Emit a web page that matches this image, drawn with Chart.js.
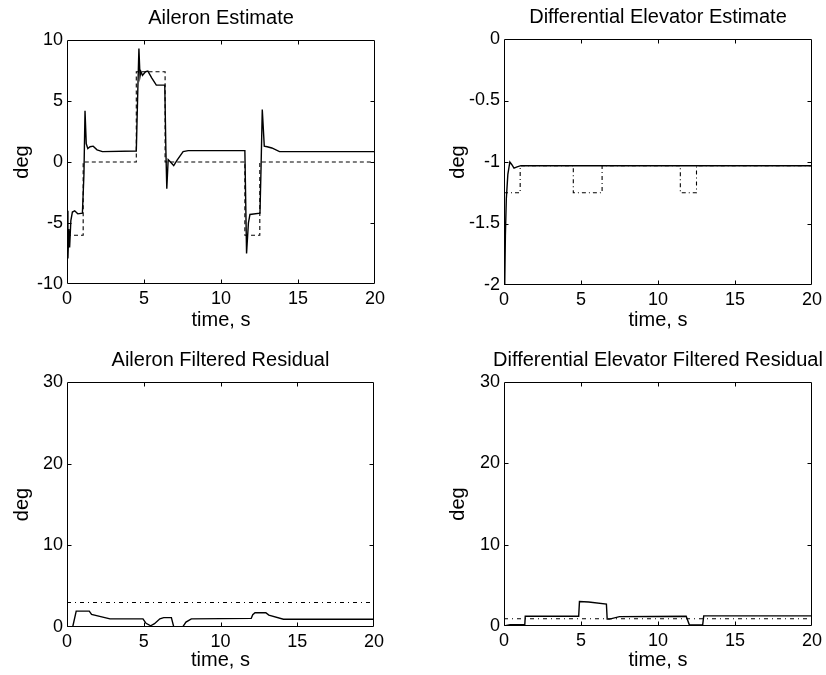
<!DOCTYPE html>
<html>
<head>
<meta charset="utf-8">
<script src="https://cdn.jsdelivr.net/npm/chart.js@4/dist/chart.umd.min.js"></script>
<style>
  html, body { margin: 0; padding: 0; background: #fff; }
  #wrap { position: relative; width: 826px; height: 675px; overflow: hidden; }
  #wrap canvas { position: absolute; }
</style>
</head>
<body>
<div id="wrap">
  <canvas id="c1" width="413" height="337" style="left:0;top:0"></canvas>
  <canvas id="c2" width="413" height="337" style="left:413px;top:0"></canvas>
  <canvas id="c3" width="413" height="338" style="left:0;top:337px"></canvas>
  <canvas id="c4" width="413" height="338" style="left:413px;top:337px"></canvas>
</div>
<script>
// ---- Aileron estimate (deg) ----
const aileronEstT = [0, 0.06, 0.12, 0.17, 0.25, 0.35, 0.5, 0.7, 1.0, 1.1, 1.17, 1.25, 1.35, 1.5, 1.7, 1.95, 2.3,
  4.5, 4.6, 4.67, 4.74, 4.8, 4.9, 5.1, 5.25, 5.5, 5.8, 6.35, 6.42, 6.48, 6.57, 6.72, 6.93, 7.15, 7.54, 7.87,
  11.55, 11.66, 11.78, 11.88, 12.53, 12.6, 12.68, 12.81, 13.0, 13.3, 13.8, 20];
const aileronEstV = [-4.0, -7.9, -5.5, -7.0, -4.8, -4.1, -4.0, -4.25, -4.2, -1.0, 4.2, 1.5, 1.1, 1.25, 1.3, 1.0, 0.85,
  0.9, 6.0, 9.3, 7.0, 7.4, 7.1, 7.4, 7.45, 6.9, 6.3, 6.3, 1.0, -2.2, 0.2, 0.0, -0.3, 0.15, 0.85, 0.93,
  0.93, -7.5, -5.0, -4.3, -4.2, -0.5, 4.3, 1.3, 1.25, 1.15, 0.85, 0.85];
// commanded aileron (step changes)
const aileronCmdT = [0, 1.05, 4.5, 6.37, 11.55, 12.52, 20];
const aileronCmdV = [-6, 0, 7.4, 0, -6, 0, 0];

// ---- Differential elevator estimate (deg) ----
const elevEstT = [0, 0.05, 0.09, 0.15, 0.25, 0.38, 0.5, 0.65, 0.85, 1.1, 20];
const elevEstV = [-2.0, -1.98, -1.6, -1.3, -1.1, -1.0, -1.02, -1.05, -1.04, -1.03, -1.03];
const elevCmdT = [0, 1.05, 4.5, 6.37, 11.45, 12.5, 20];
const elevCmdV = [-1.25, -1.03, -1.25, -1.03, -1.25, -1.03, -1.03];

// ---- Aileron filtered residual (deg) ----
const ailResT = [0, 0.37, 0.6, 1.45, 1.6, 2.8, 4.95, 5.15, 5.45, 5.7, 6.05, 6.3, 6.8, 6.95, 7.55, 7.75, 8.1,
  12.0, 12.1, 12.25, 12.95, 13.15, 14.1, 20];
const ailResV = [0, 0, 1.95, 1.95, 1.55, 1.0, 1.0, 0.45, 0.15, 0.4, 1.0, 1.15, 1.15, 0.05, 0.05, 0.6, 1.0,
  1.05, 1.5, 1.75, 1.75, 1.45, 0.95, 0.95];
const ailThreshT = [0, 20];
const ailThreshV = [3.0, 3.0];

// ---- Differential elevator filtered residual (deg) ----
const elevResT = [0, 0.4, 1.35, 1.38, 4.85, 4.9, 5.5, 6.65, 6.7, 6.85, 7.5, 11.83, 12.04, 12.9, 12.97, 20];
const elevResV = [0, 0.15, 0.15, 1.2, 1.2, 3.0, 2.95, 2.7, 0.85, 0.85, 1.15, 1.2, 0.12, 0.12, 1.25, 1.25];
const elevThreshT = [0, 20];
const elevThreshV = [0.9, 0.9];

// axis ticks
const timeTicks = [0, 5, 10, 15, 20];

const FONT = '"Liberation Sans", Arial, Helvetica, sans-serif';
Chart.defaults.color = '#000';
Chart.defaults.font.family = FONT;

const pts = (t, v) => t.map((x, i) => ({ x, y: v[i] }));

// box around the plot area with inward tick marks on all four sides
const frameTicks = {
  id: 'frameTicks',
  afterDraw(chart) {
    const { ctx, chartArea: a, scales: { x, y } } = chart;
    const L = Math.round(a.left) + 0.5, R = Math.round(a.right) - 0.5;
    const T = Math.round(a.top) + 0.5, B = Math.round(a.bottom) - 0.5;
    const len = 4;
    ctx.save();
    ctx.strokeStyle = '#000';
    ctx.lineWidth = 1;
    ctx.beginPath();
    ctx.rect(L, T, R - L, B - T);
    x.ticks.forEach(tk => {
      const px = Math.round(x.getPixelForValue(tk.value)) + 0.5;
      if (px <= L + 1 || px >= R - 1) return;
      ctx.moveTo(px, B); ctx.lineTo(px, B - len);
      ctx.moveTo(px, T); ctx.lineTo(px, T + len);
    });
    y.ticks.forEach(tk => {
      const py = Math.round(y.getPixelForValue(tk.value)) + 0.5;
      if (py <= T + 1 || py >= B - 1) return;
      ctx.moveTo(L, py); ctx.lineTo(L + len, py);
      ctx.moveTo(R, py); ctx.lineTo(R - len, py);
    });
    ctx.stroke();
    ctx.restore();
  }
};

// panel heading, centred over the plot area (allowed to run wider than it)
const panelTitle = {
  id: 'panelTitle',
  afterDraw(chart, args, opts) {
    const { ctx, chartArea: a } = chart;
    ctx.save();
    ctx.fillStyle = '#000';
    ctx.font = '20px ' + FONT;
    ctx.textAlign = 'center';
    ctx.textBaseline = 'middle';
    ctx.fillText(opts.text, (a.left + a.right) / 2, opts.y);
    ctx.restore();
  }
};

function makePanel(id, cfg) {
  const solid = {
    data: pts(cfg.solidT, cfg.solidV),
    borderColor: '#000', borderWidth: 1.4, pointRadius: 0, tension: 0,
    stepped: false, order: 1
  };
  const dashed = {
    data: pts(cfg.dashT, cfg.dashV),
    borderColor: '#000', borderWidth: 1.1, pointRadius: 0, tension: 0,
    borderDash: cfg.dash, stepped: cfg.stepped ? 'before' : false, order: 2
  };
  new Chart(document.getElementById(id), {
    type: 'line',
    data: { datasets: [solid, dashed] },
    options: {
      responsive: false,
      animation: false,
      events: [],
      layout: { padding: { left: 0, right: cfg.padRight, top: cfg.plotTop, bottom: 0 } },
      plugins: {
        legend: { display: false },
        tooltip: { enabled: false },
        title: { display: false },
        panelTitle: { text: cfg.title, y: cfg.titleY }
      },
      scales: {
        x: {
          type: 'linear', min: 0, max: 20,
          afterBuildTicks: s => { s.ticks = timeTicks.map(v => ({ value: v })); },
          afterFit: s => { s.height = cfg.xHeight; },
          grid: { display: false, drawTicks: false },
          border: { display: false },
          ticks: { padding: 4, font: { size: 18, family: FONT }, maxRotation: 0, color: '#000',
                   callback: v => String(+v) },
          title: { display: true, text: 'time, s', font: { size: 20, family: FONT, lineHeight: 1.2 },
                   padding: { top: 0, bottom: cfg.xTitleBottom }, color: '#000' }
        },
        y: {
          type: 'linear', min: cfg.yMin, max: cfg.yMax,
          afterBuildTicks: s => { s.ticks = cfg.yTicks.map(v => ({ value: v })); },
          afterFit: s => { s.width = cfg.yWidth; },
          grid: { display: false, drawTicks: false },
          border: { display: false },
          ticks: { padding: 4, font: { size: 18, family: FONT }, color: '#000',
                   callback: v => String(+v) },
          title: { display: true, text: 'deg', font: { size: 20, family: FONT, lineHeight: 1.2 },
                   padding: { top: cfg.yTitleTop, bottom: 0 }, color: '#000' }
        }
      }
    },
    plugins: [frameTicks, panelTitle]
  });
}

makePanel('c1', {
  title: 'Aileron Estimate',
  solidT: aileronEstT, solidV: aileronEstV,
  dashT: aileronCmdT, dashV: aileronCmdV, dash: [4, 3], stepped: true,
  yMin: -10, yMax: 10, yTicks: [-10, -5, 0, 5, 10],
  padRight: 38, plotTop: 40, titleY: 18, yWidth: 67, xHeight: 53,
  yTitleTop: 10, xTitleBottom: 5
});
makePanel('c2', {
  title: 'Differential Elevator Estimate',
  solidT: elevEstT, solidV: elevEstV,
  dashT: elevCmdT, dashV: elevCmdV, dash: [4, 3, 1, 3], stepped: true,
  yMin: -2, yMax: 0, yTicks: [-2, -1.5, -1, -0.5, 0],
  padRight: 13, plotTop: 39, titleY: 17, yWidth: 91, xHeight: 52,
  yTitleTop: 33, xTitleBottom: 5
});
makePanel('c3', {
  title: 'Aileron Filtered Residual',
  solidT: ailResT, solidV: ailResV,
  dashT: ailThreshT, dashV: ailThreshV, dash: [4, 4, 1, 4], stepped: false,
  yMin: 0, yMax: 30, yTicks: [0, 10, 20, 30],
  padRight: 39, plotTop: 45, titleY: 23, yWidth: 67, xHeight: 48,
  yTitleTop: 10, xTitleBottom: 3
});
makePanel('c4', {
  title: 'Differential Elevator Filtered Residual',
  solidT: elevResT, solidV: elevResV,
  dashT: elevThreshT, dashV: elevThreshV, dash: [4, 4, 1, 4], stepped: false,
  yMin: 0, yMax: 30, yTicks: [0, 10, 20, 30],
  padRight: 13, plotTop: 45, titleY: 23, yWidth: 91, xHeight: 49,
  yTitleTop: 33, xTitleBottom: 3
});
</script>
</body>
</html>
